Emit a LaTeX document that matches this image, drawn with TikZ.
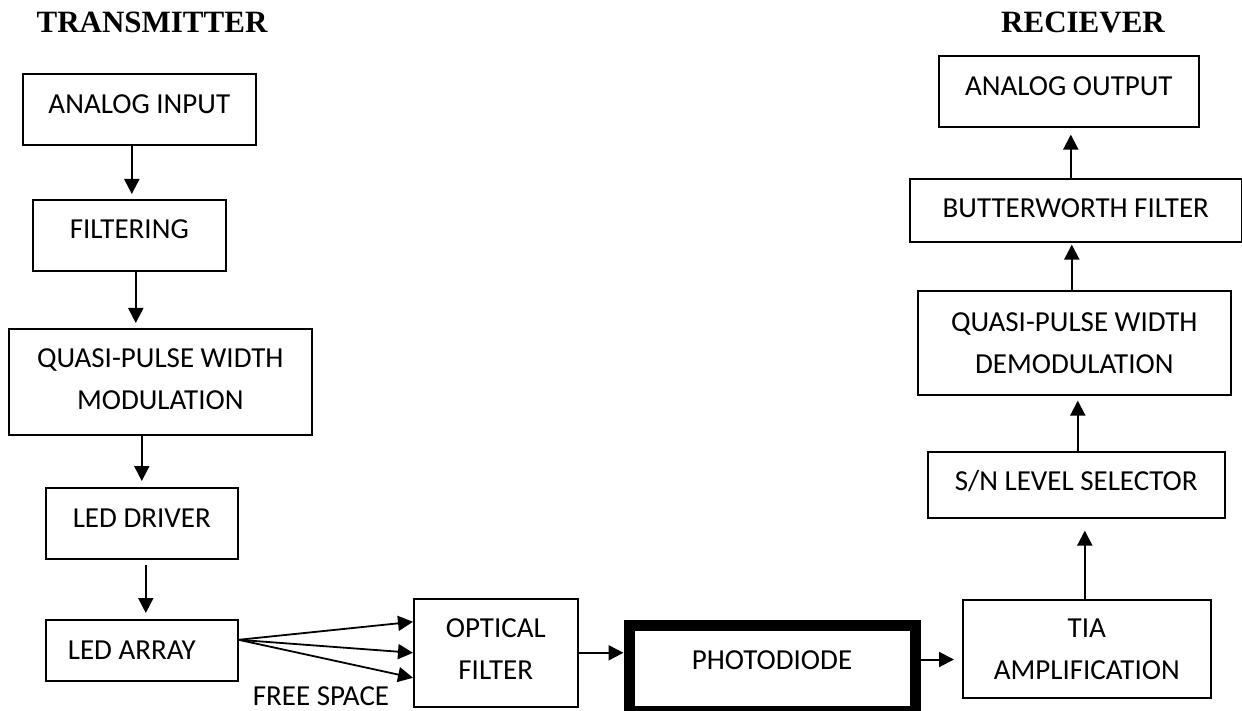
\documentclass[tikz,border=0pt]{standalone}
\usepackage{fontspec}
\setmainfont{Carlito}
\newfontfamily\headfont{Liberation Serif}
\usetikzlibrary{arrows.meta,calc}
\begin{document}
\begin{tikzpicture}[x=1pt,y=-1pt,
  blk/.style={draw, line width=1.6pt, anchor=north west, inner sep=0pt,
    align=center, font=\fontsize{29}{42}\selectfont},
  tshift/.style={text depth=#1},
  arr/.style={line width=2pt, -{Triangle[length=15pt,width=15pt]}},
  head/.style={font=\headfont\bfseries\fontsize{31}{36}\selectfont, anchor=base, inner sep=0pt},
  lbl/.style={font=\fontsize{29}{34}\selectfont, anchor=base, inner sep=0pt}]
\useasboundingbox (0,0) rectangle (1242,711);

% headings
\node[head] (ht) at (152,32.5) {TRANSMITTER};
\node[head] (hr) at (1083,32.5) {RECIEVER};

% transmitter column
\node[blk, minimum width=233pt, minimum height=71pt, tshift=10pt] (ain) at (22,73) {ANALOG INPUT};
\node[blk, minimum width=193pt, minimum height=71pt, tshift=12pt] (filt) at (32,199) {FILTERING};
\node[blk, minimum width=303pt, minimum height=106pt, tshift=6pt] (qpwm) at (8,328) {QUASI-PULSE WIDTH\\MODULATION};
\node[blk, minimum width=192pt, minimum height=71pt, tshift=10pt] (drv) at (45,487) {LED DRIVER};
\node[blk, minimum width=192pt, minimum height=61pt] (ledarr) at (45,619) {LED ARRAY\hspace*{20pt}};

% channel
\node[blk, minimum width=164pt, minimum height=108pt, tshift=7pt] (of) at (413,598) {OPTICAL\\FILTER};
\node[blk, line width=11pt, minimum width=286pt, minimum height=86pt, tshift=15pt] (pd) at (623.5,619.5) {PHOTODIODE};
\node[lbl] (fs) at (321,705.5) {FREE SPACE};

% receiver column
\node[blk, minimum width=248pt, minimum height=98pt] (tia) at (962,599) {TIA\\AMPLIFICATION};
\node[blk, minimum width=297pt, minimum height=66pt, tshift=8pt] (sn) at (927,451) {S/N LEVEL SELECTOR};
\node[blk, minimum width=313pt, minimum height=104pt] (qpwd) at (917,290) {QUASI-PULSE WIDTH\\DEMODULATION};
\node[blk, minimum width=332pt, minimum height=63pt, tshift=4pt] (bw) at (909,178) {BUTTERWORTH FILTER};
\node[blk, minimum width=260pt, minimum height=71pt, tshift=11pt] (ao) at (938,55) {ANALOG OUTPUT};

% transmitter arrows
\draw[arr, shorten >=5pt] ([xshift=-7.5pt]ain.south) -- ([xshift=-7.5pt]ain.south |- filt.north);
\draw[arr, shorten >=5pt] ([xshift=6.5pt]filt.south) -- ([xshift=6.5pt]filt.south |- qpwm.north);
\draw[arr, shorten >=6pt] ([xshift=-18.5pt]qpwm.south) -- ([xshift=-18.5pt]qpwm.south |- drv.north);
\draw[arr, shorten <=5pt, shorten >=6pt] ([xshift=4pt]drv.south) -- ([xshift=4pt]drv.south |- ledarr.north);

% free-space fan
\coordinate (src) at ([yshift=10.5pt]ledarr.east);
\draw[arr, line width=1.8pt] (src) -- ([yshift=31pt]of.west);
\draw[arr, line width=1.8pt] (src) -- (of.west);
\draw[arr, line width=1.8pt] (src) -- ([yshift=-25pt]of.west);

\draw[arr] (of.east) -- (of.east -| pd.west);
\draw[arr, shorten >=8pt] ([yshift=8.5pt]pd.east) -- ([yshift=8.5pt]pd.east -| tia.west);

% receiver arrows
\draw[arr, shorten >=12pt] ([xshift=-2pt]tia.north) -- ([xshift=-2pt]tia.north |- sn.south);
\draw[arr, shorten >=5pt] ([xshift=1.5pt]sn.north) -- ([xshift=1.5pt]sn.north |- qpwd.south);
\draw[arr, shorten >=2pt] ([xshift=-2.5pt]qpwd.north) -- ([xshift=-2.5pt]qpwd.north |- bw.south);
\draw[arr, shorten >=7pt] ([xshift=-5pt]bw.north) -- ([xshift=-5pt]bw.north |- ao.south);
\end{tikzpicture}
\end{document}
